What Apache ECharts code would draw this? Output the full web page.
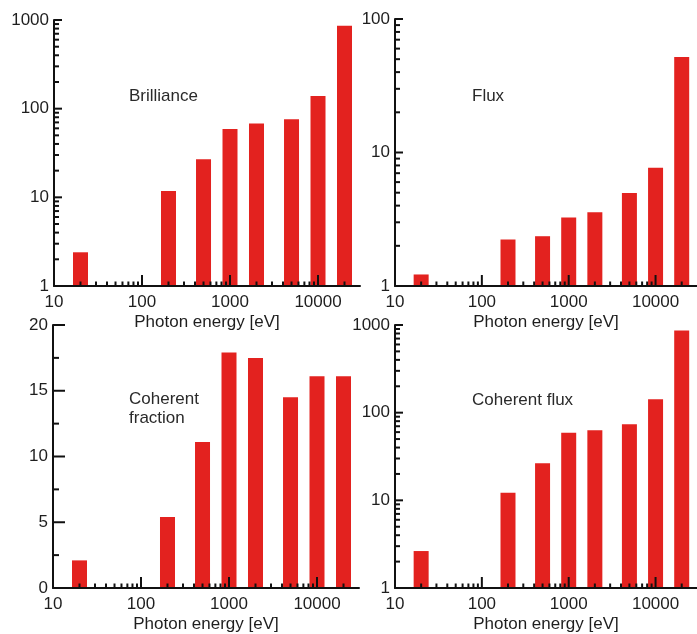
<!DOCTYPE html>
<html><head><meta charset="utf-8">
<script src="https://cdn.jsdelivr.net/npm/echarts@6/dist/echarts.min.js"></script>
<style>html,body{margin:0;padding:0;background:#fff}#c{width:697px;height:634px}</style>
</head><body><div id="c"></div>
<script>
// ---- data ----
const energies = [20, 200, 500, 1000, 2000, 5000, 10000, 20000];
const brilliance = [2.4, 11.8, 26.8, 59, 68, 76, 139, 860];
const flux = [1.22, 2.23, 2.36, 3.26, 3.57, 4.98, 7.7, 52];
const coherentFraction = [2.1, 5.4, 11.1, 17.9, 17.5, 14.5, 16.1, 16.1];
const coherentFlux = [2.64, 12.2, 26.5, 59, 63, 74, 142, 864];
const panelTitles = [['Brilliance'], ['Flux'], ['Coherent', 'fraction'], ['Coherent flux']];
const xName = 'Photon energy [eV]';
const xMajorTicks = [100, 1000, 10000];
const xMinorTicks = [20, 30, 40, 50, 60, 70, 80, 90, 200, 300, 400, 500, 600, 700, 800, 900,
  2000, 3000, 4000, 5000, 6000, 7000, 8000, 9000, 20000];
const yMajor1000 = [10, 100, 1000];
const yMinor1000 = [2, 3, 4, 5, 6, 7, 8, 9, 20, 30, 40, 50, 60, 70, 80, 90, 200, 300, 400, 500, 600, 700, 800, 900];
const yMajor100 = [10, 100];
const yMinor100 = [2, 3, 4, 5, 6, 7, 8, 9, 20, 30, 40, 50, 60, 70, 80, 90];
const yMajorLin = [5, 10, 15, 20];
const yMinorLin = [2.5, 7.5, 12.5, 17.5];

// ---- styling ----
const FONT = 'Liberation Sans, Arial, Helvetica, sans-serif';
const FS = 17;
const TXT = '#1e1e1e';
const RED = '#e3221f';
const AX = '#111';

const panels = [
  { grid: { left: 54, top: 20, width: 306, height: 266 }, values: brilliance, yType: 'log', yMin: 1, yMax: 1000, yMaj: yMajor1000, yMin_: yMinor1000, title: { left: 129, top: 87 } },
  { grid: { left: 395, top: 19, width: 305, height: 267 }, values: flux, yType: 'log', yMin: 1, yMax: 100, yMaj: yMajor100, yMin_: yMinor100, title: { left: 472, top: 87 } },
  { grid: { left: 53, top: 325, width: 306, height: 265 }, values: coherentFraction, yType: 'value', yMin: 0, yMax: 20, yMaj: yMajorLin, yMin_: yMinorLin, title: { left: 129, top: 390 } },
  { grid: { left: 395, top: 325, width: 305, height: 265 }, values: coherentFlux, yType: 'log', yMin: 1, yMax: 1000, yMaj: yMajor1000, yMin_: yMinor1000, title: { left: 472, top: 391 } }
];

function isDecade(v) {
  const l = Math.log10(v);
  return Math.abs(l - Math.round(l)) < 1e-6;
}

const grid = [], xAxis = [], yAxis = [], series = [], graphic = [];
panels.forEach((p, i) => {
  grid.push(Object.assign({ containLabel: false }, p.grid));
  xAxis.push({
    type: 'log', logBase: 10, min: 10, max: 30000, gridIndex: i, z: 5,
    axisLine: { show: true, onZero: false, lineStyle: { color: AX, width: 2 } },
    axisTick: { show: false }, splitLine: { show: false }, minorTick: { show: false },
    axisLabel: { show: true, margin: 8, color: TXT, fontSize: FS, fontFamily: FONT, showMaxLabel: false,
      formatter: v => isDecade(v) ? String(Math.round(v)) : '' },
    name: xName, nameLocation: 'middle', nameGap: 28,
    nameTextStyle: { color: TXT, fontSize: FS, fontFamily: FONT }
  });
  const ya = {
    type: p.yType, min: p.yMin, max: p.yMax, gridIndex: i, z: 5,
    axisLine: { show: true, onZero: false, lineStyle: { color: AX, width: 2 } },
    axisTick: { show: false }, splitLine: { show: false }, minorTick: { show: false },
    axisLabel: { show: true, margin: 5, color: TXT, fontSize: FS, fontFamily: FONT,
      formatter: v => p.yType === 'log' ? (isDecade(v) ? String(Math.round(v)) : '') : String(v) }
  };
  if (p.yType === 'log') ya.logBase = 10; else ya.interval = 5;
  yAxis.push(ya);

  // bars
  series.push({
    type: 'custom', xAxisIndex: i, yAxisIndex: i, z: 2,
    data: energies.map((e, k) => [e, p.values[k]]),
    renderItem: (params, api) => {
      const cs = params.coordSys;
      const top = api.coord([api.value(0), api.value(1)]);
      const base = cs.y + cs.height;
      const w = 15;
      return { type: 'rect', shape: { x: top[0] - w / 2, y: top[1], width: w, height: base - top[1] }, style: { fill: RED } };
    }
  });

  // x ticks (drawn over bars)
  const xt = xMajorTicks.map(v => [v, p.yMin, 1]).concat(xMinorTicks.map(v => [v, p.yMin, 0]));
  series.push({
    type: 'custom', xAxisIndex: i, yAxisIndex: i, z: 6, silent: true,
    data: xt,
    renderItem: (params, api) => {
      const pt = api.coord([api.value(0), api.value(1)]);
      const len = api.value(2) ? 11 : 4.5;
      return { type: 'line', shape: { x1: pt[0], y1: pt[1], x2: pt[0], y2: pt[1] - len }, style: { stroke: AX, lineWidth: 2 } };
    }
  });
  // y ticks
  const lin = p.yType !== 'log';
  const yt = p.yMaj.map(v => [10, v, 1]).concat(p.yMin_.map(v => [10, v, 0]));
  series.push({
    type: 'custom', xAxisIndex: i, yAxisIndex: i, z: 6, silent: true,
    data: yt,
    renderItem: (params, api) => {
      const pt = api.coord([api.value(0), api.value(1)]);
      const len = api.value(2) ? (lin ? 12 : 8) : (lin ? 6 : 5);
      return { type: 'line', shape: { x1: pt[0], y1: pt[1], x2: pt[0] + len, y2: pt[1] }, style: { stroke: AX, lineWidth: 2 } };
    }
  });

  graphic.push({
    type: 'text', left: p.title.left, top: p.title.top, z: 10,
    style: { text: panelTitles[i].join('\n'), fill: '#2a2a2a', font: FS + 'px ' + FONT, lineHeight: 19 }
  });
});

const chart = echarts.init(document.getElementById('c'), null, { renderer: 'canvas' });
chart.setOption({
  animation: false,
  backgroundColor: '#fff',
  grid, xAxis, yAxis, series, graphic
});
</script>
</body></html>
